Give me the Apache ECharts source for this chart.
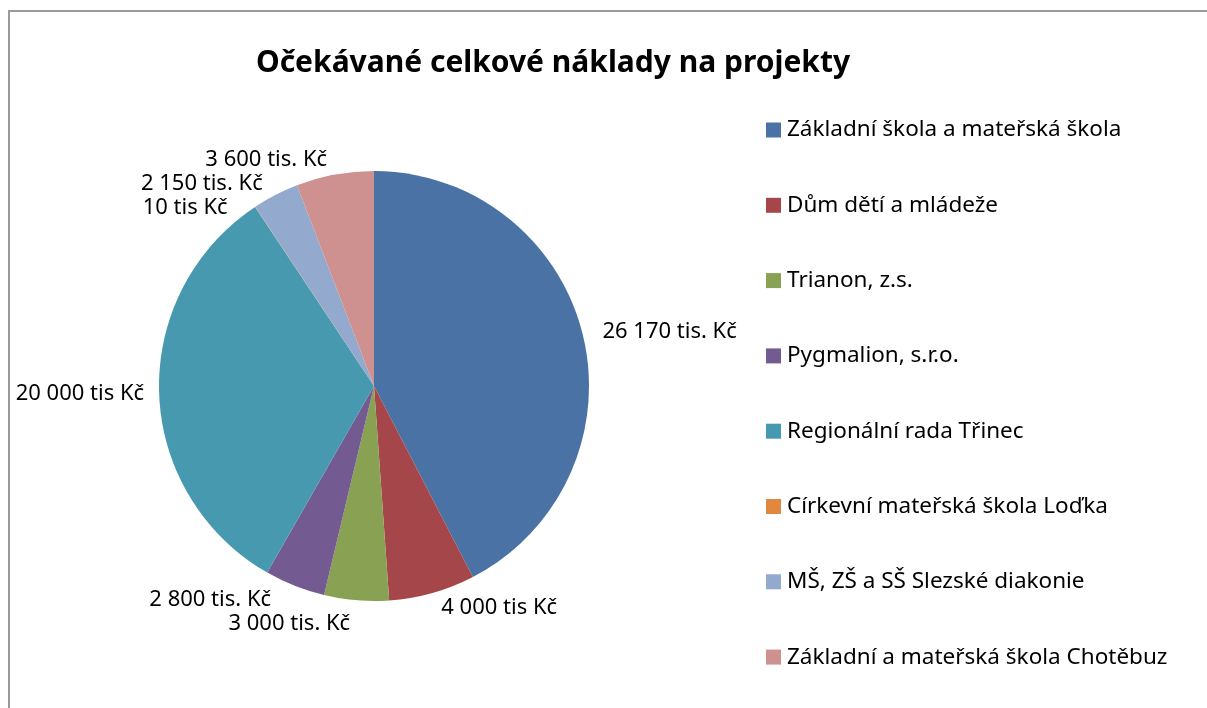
<!DOCTYPE html>
<html>
<head>
<meta charset="utf-8">
<style>
  html, body { margin: 0; padding: 0; background: #fff; }
  #frame {
    position: absolute; left: 8px; top: 10px; width: 1230px; height: 740px;
    border: 2px solid #9a9a9a; box-sizing: border-box;
  }
  #chart { position: absolute; left: 0; top: 0; width: 1207px; height: 708px; }
</style>
<script src="https://cdn.jsdelivr.net/npm/echarts@6/dist/echarts.min.js"></script>
</head>
<body>
<div id="frame"></div>
<div id="chart"></div>
<script>
// data
var projekty = [
  'Základní škola a mateřská škola',
  'Dům dětí a mládeže',
  'Trianon, z.s.',
  'Pygmalion, s.r.o.',
  'Regionální rada Třinec',
  'Církevní mateřská škola Loďka',
  'MŠ, ZŠ a SŠ Slezské diakonie',
  'Základní a mateřská škola Chotěbuz'
]
var naklady = [26170, 4000, 3000, 2800, 20000, 10, 2150, 3600]
var popisky = [
  '26 170 tis. Kč', '4 000 tis Kč', '3 000 tis. Kč', '2 800 tis. Kč',
  '20 000 tis Kč', '10 tis Kč', '2 150 tis. Kč', '3 600 tis. Kč'
]
var barvy = ['#4a72a4', '#a5474a', '#88a152', '#735a91', '#4699ae', '#e0883f', '#93a9cd', '#ce9190']

var FONT = '"Noto Sans", "Open Sans", sans-serif'

var chart = echarts.init(document.getElementById('chart'))

var data = projekty.map(function (name, i) {
  return { name: name, value: naklady[i], label: { formatter: popisky[i] } }
})

chart.setOption({
  animation: false,
  color: barvy,
  title: {
    text: 'Očekávané celkové náklady na projekty',
    left: 548,
    top: 43,
    textAlign: 'center',
    textStyle: { fontFamily: FONT, fontSize: 30, fontWeight: 'bold', color: '#000' }
  },
  legend: {
    orient: 'vertical',
    left: 766,
    top: 118,
    padding: 0,
    itemWidth: 15,
    itemHeight: 15,
    itemGap: 51.3,
    icon: 'rect',
    textStyle: { fontFamily: FONT, fontSize: 22.5, lineHeight: 24, color: '#000', padding: [0, 0, 0, 1] },
    data: projekty
  },
  series: [{
    type: 'pie',
    center: [374, 386],
    radius: 215,
    startAngle: 90,
    clockwise: true,
    avoidLabelOverlap: true,
    itemStyle: { borderWidth: 0 },
    label: {
      show: true,
      position: 'outside',
      fontFamily: FONT,
      fontSize: 22,
      color: '#000'
    },
    labelLine: { show: false, length: 15, length2: 0 },
    emphasis: { disabled: true },
    data: data
  }]
})
</script>
</body>
</html>
